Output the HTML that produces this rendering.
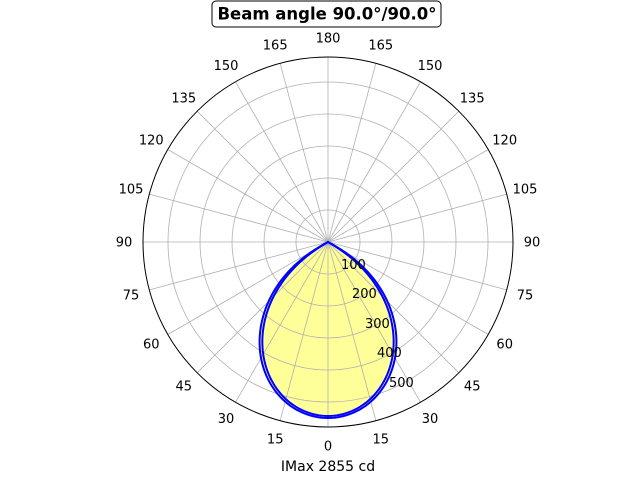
<!DOCTYPE html>
<html><head><meta charset="utf-8"><style>
html,body{margin:0;padding:0;background:#fff;}
svg{display:block;font-family:"DejaVu Sans","Liberation Sans",sans-serif;}
</style></head><body>
<svg id="s" width="640" height="480" viewBox="0 0 640 480" xmlns="http://www.w3.org/2000/svg">
<rect width="640" height="480" fill="#fff"/>
<g id="fill"></g>
<g id="grid" stroke="#b0b0b0" stroke-width="0.8" fill="none"></g>
<g id="curves" fill="none" stroke="#0000ff" stroke-width="2"></g>
<circle cx="328" cy="242" r="185" fill="none" stroke="#000" stroke-width="1"/>
<g id="labels" font-size="13" fill="#000" text-anchor="middle"></g>
<g font-size="13" fill="#000">
<text x="341" y="269">100</text>
<text x="352" y="298">200</text>
<text x="365" y="328">300</text>
<text x="377" y="357">400</text>
<text x="389" y="387">500</text>
</g>
<rect x="212" y="1" width="229" height="26" rx="4" fill="#fff" stroke="#000" stroke-width="1"/>
<text x="327" y="19.5" font-size="16.5" font-weight="bold" text-anchor="middle">Beam angle 90.0°/90.0°</text>
<text x="328" y="471" font-size="14" text-anchor="middle">IMax 2855 cd</text>
</svg>
<script>
var cx=328,cy=242,R=185,ns="http://www.w3.org/2000/svg";
function el(p,t,a,txt){var e=document.createElementNS(ns,t);for(var k in a)e.setAttribute(k,a[k]);if(txt!=null)e.textContent=txt;document.getElementById(p).appendChild(e);return e;}
function pt(a,r){var t=a*Math.PI/180;return [cx+r*Math.sin(t),cy+r*Math.cos(t)];}
function curve(k,m,rm){var d="";for(var a=-90;a<=90;a+=1){var x=a*k;var c=Math.abs(x)>=90?0:Math.cos(x*Math.PI/180);var r=rm*Math.pow(c,m);var p=pt(a,r);d+=(d?"L":"M")+p[0].toFixed(2)+","+p[1].toFixed(2);}return d+"Z";}
el("fill","path",{d:curve(1.45,0.85,176),fill:"#ffff99",stroke:"none"});
for(var i=1;i<=5;i++)el("grid","circle",{cx:cx,cy:cy,r:i*32});
for(var a=0;a<360;a+=15){var p=pt(a,R);el("grid","line",{x1:cx,y1:cy,x2:p[0].toFixed(2),y2:p[1].toFixed(2)});}
el("curves","path",{d:curve(1.45,0.85,176)});
el("curves","path",{d:curve(1.5,0.85,174)});
for(var a=0;a<360;a+=15){var p=pt(a,204);var v=a<=180?a:360-a;el("labels","text",{x:p[0].toFixed(1),y:(p[1]+4.5).toFixed(1)},String(v));}
</script>
</body></html>
